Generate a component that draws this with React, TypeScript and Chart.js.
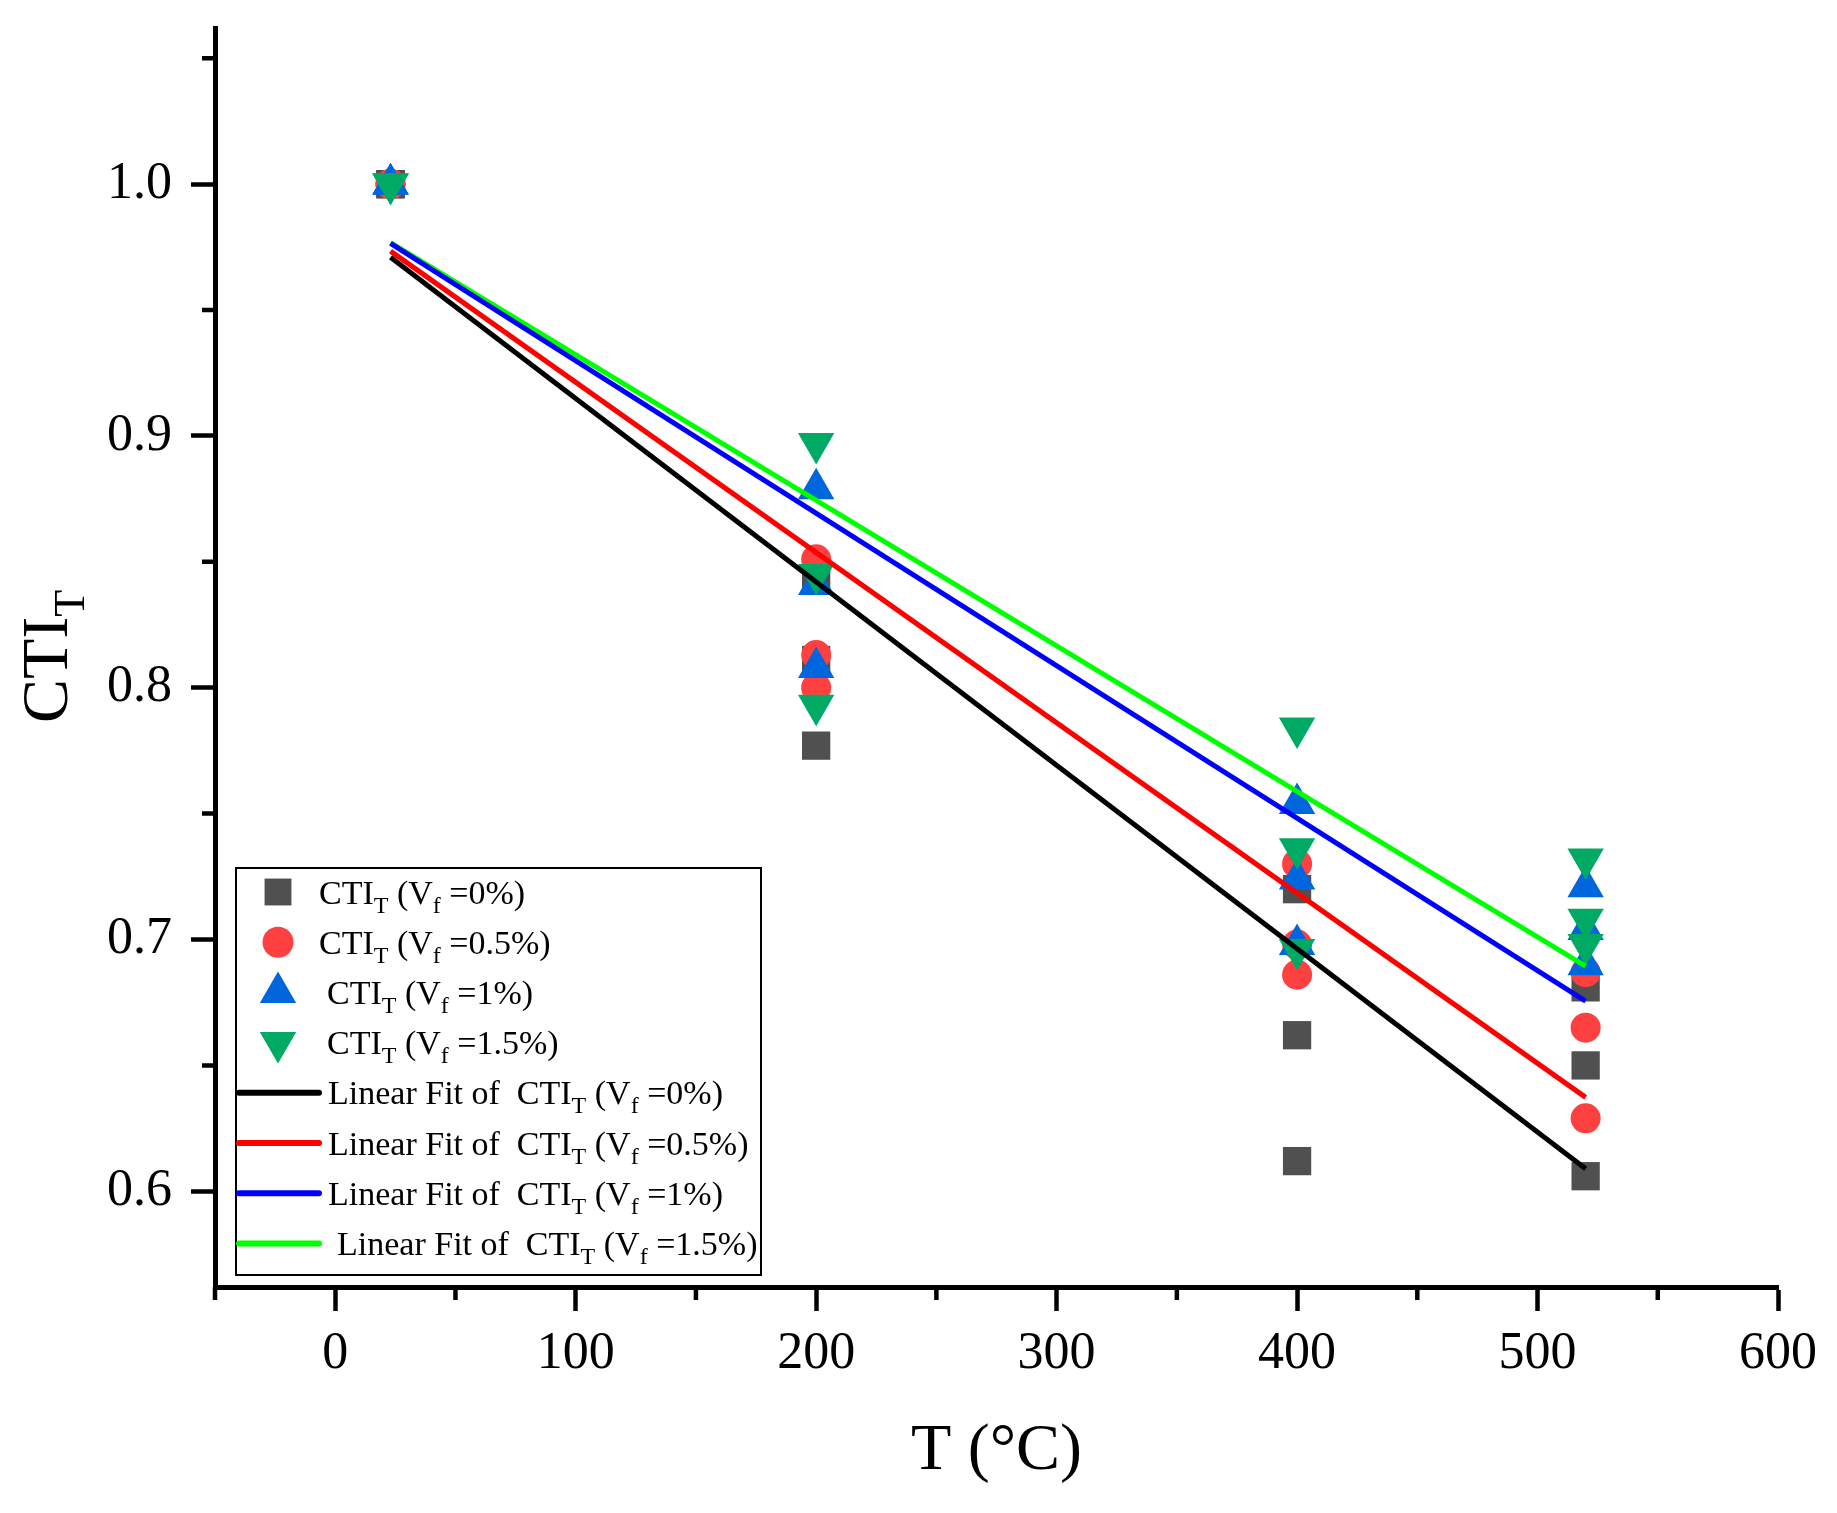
import { useEffect, useRef } from "react";
import { Chart, registerables } from "chart.js";
import { drawPoint } from "chart.js/helpers";

Chart.register(...registerables);

// measured CTI_T values, three specimens per temperature
const temps = [23, 23, 23, 200, 200, 200, 400, 400, 400, 520, 520, 520];
const cti0 = [1, 1, 1, 0.843, 0.811, 0.777, 0.72, 0.662, 0.612, 0.681, 0.65, 0.606];
const cti05 = [1, 1, 1, 0.851, 0.813, 0.8, 0.73, 0.698, 0.686, 0.687, 0.665, 0.629];
const cti1 = [1, 1, 1, 0.879, 0.841, 0.808, 0.754, 0.724, 0.698, 0.721, 0.704, 0.69];
const cti15 = [1, 1, 1, 0.897, 0.845, 0.793, 0.784, 0.736, 0.696, 0.732, 0.708, 0.698];

// linear fit end points
const fitTemps = [23, 520];
const fit0 = [0.971, 0.609];
const fit05 = [0.9734, 0.6373];
const fit1 = [0.9765, 0.6755];
const fit15 = [0.9768, 0.6894];

const fractions = ["0%", "0.5%", "1%", "1.5%"];

const xMajor = [0, 100, 200, 300, 400, 500, 600];
const xMinor = [-50, 50, 150, 250, 350, 450, 550];
const yMajor = [0.6, 0.7, 0.8, 0.9, 1.0];
const yMinor = [0.65, 0.75, 0.85, 0.95, 1.05];

const SERIF = "'Liberation Serif', 'Times New Roman', serif";
const W = 1837;
const H = 1513;

const markerColors = ["rgb(80,80,80)", "rgb(255,64,64)", "rgb(0,102,221)", "rgb(0,170,100)"];
const fitColors = ["#000000", "#ff0000", "#0000ff", "#00ff00"];

type Seg = [string, boolean];

function drawRich(ctx: CanvasRenderingContext2D, x: number, y: number, segs: Seg[], size: number, sub: number, drop: number) {
  let cx = x;
  for (const [t, isSub] of segs) {
    ctx.font = `${isSub ? sub : size}px ${SERIF}`;
    ctx.fillText(t, cx, isSub ? y + drop : y);
    cx += ctx.measureText(t).width;
  }
}

const ctiLabel = (prefix: string, frac: string): Seg[] => [
  [prefix + "CTI", false],
  ["T", true],
  [" (V", false],
  ["f", true],
  [" =" + frac + ")", false],
];

const decorPlugin = {
  id: "decor",
  afterDraw(chart: any) {
    const ctx: CanvasRenderingContext2D = chart.ctx;
    const { left, bottom } = chart.chartArea;
    const xs = chart.scales.x;
    const ys = chart.scales.y;
    ctx.save();

    // minor ticks
    ctx.strokeStyle = "#000";
    ctx.lineWidth = 4.5;
    ctx.beginPath();
    xMinor.forEach((v) => {
      const px = xs.getPixelForValue(v);
      ctx.moveTo(px, bottom);
      ctx.lineTo(px, bottom + 13);
    });
    yMinor.forEach((v) => {
      const py = ys.getPixelForValue(v);
      ctx.moveTo(left, py);
      ctx.lineTo(left - 13, py);
    });
    ctx.stroke();

    // y title
    ctx.fillStyle = "#000";
    ctx.textBaseline = "alphabetic";
    ctx.textAlign = "left";
    ctx.save();
    ctx.translate(67, 723);
    ctx.rotate(-Math.PI / 2);
    drawRich(ctx, 0, 0, [["CTI", false], ["T", true]], 66, 44, 17);
    ctx.restore();

    // legend box
    const bx = left + 21;
    const by = bottom - 419;
    const bw = 525;
    const bh = 407;
    ctx.fillStyle = "#fff";
    ctx.fillRect(bx, by, bw, bh);
    ctx.strokeStyle = "#000";
    ctx.lineWidth = 2;
    ctx.strokeRect(bx, by, bw, bh);

    const rowY = (i: number) => by + 24 + i * 50.2;
    const markerStyles = [
      { pointStyle: "rect", radius: 19, rotation: 0 },
      { pointStyle: "circle", radius: 15.5, rotation: 0 },
      { pointStyle: "triangle", radius: 21, rotation: 0 },
      { pointStyle: "triangle", radius: 21, rotation: 180 },
    ];
    const textX = [104, 104, 112, 112];
    const lineTextX = [113, 113, 113, 122];
    for (let i = 0; i < 4; i++) {
      const cy = rowY(i);
      ctx.fillStyle = markerColors[i];
      drawPoint(ctx, { ...markerStyles[i], borderWidth: 0 } as any, left + 63, cy);
      ctx.fillStyle = "#000";
      drawRich(ctx, left + textX[i], cy + 11.5, ctiLabel("", fractions[i]), 34, 24, 9);
    }
    for (let i = 0; i < 4; i++) {
      const cy = rowY(i + 4);
      ctx.strokeStyle = fitColors[i];
      ctx.lineWidth = 6;
      ctx.lineCap = "round";
      ctx.beginPath();
      ctx.moveTo(left + 24, cy);
      ctx.lineTo(left + 104, cy);
      ctx.stroke();
      ctx.fillStyle = "#000";
      drawRich(ctx, left + lineTextX[i], cy + 11.5, ctiLabel("Linear Fit of  ", fractions[i]), 34, 24, 9);
    }
    ctx.restore();
  },
};

const zeroPad = (s: any) => {
  s.paddingLeft = 0;
  s.paddingRight = 0;
  s.paddingTop = 0;
  s.paddingBottom = 0;
};

export default function App() {
  const canvasRef = useRef<HTMLCanvasElement>(null);
  const chartRef = useRef<Chart | null>(null);

  useEffect(() => {
    document.body.style.margin = "0";
    if (!canvasRef.current) return;
    if (chartRef.current) chartRef.current.destroy();
    const ctx = canvasRef.current.getContext("2d");
    if (!ctx) return;

    const pts = (ys: number[]) => temps.map((t, i) => ({ x: t, y: ys[i] }));
    const fit = (ys: number[]) => fitTemps.map((t, i) => ({ x: t, y: ys[i] }));
    const scatterSets = [cti0, cti05, cti1, cti15];
    const fitSets = [fit0, fit05, fit1, fit15];
    const styles = ["rect", "circle", "triangle", "triangle"];
    const radii = [20, 15, 21, 21];

    const datasets: any[] = [];
    scatterSets.forEach((ys, i) => {
      datasets.push({
        type: "scatter",
        label: `CTI_T (Vf =${fractions[i]})`,
        data: pts(ys),
        pointStyle: styles[i],
        pointRadius: radii[i],
        pointRotation: i === 3 ? 180 : 0,
        pointBackgroundColor: markerColors[i],
        pointBorderWidth: 0,
        showLine: false,
        order: 7 - i,
      });
    });
    fitSets.forEach((ys, i) => {
      datasets.push({
        type: "line",
        label: `Linear Fit of CTI_T (Vf =${fractions[i]})`,
        data: fit(ys),
        borderColor: fitColors[i],
        borderWidth: 5,
        pointRadius: 0,
        fill: false,
        tension: 0,
        borderCapStyle: "butt",
        order: i,
      });
    });

    chartRef.current = new Chart(ctx, {
      type: "scatter",
      data: { datasets },
      options: {
        animation: false,
        responsive: true,
        maintainAspectRatio: false,
        layout: { padding: { top: 28, right: 59, left: 0, bottom: 0 } },
        plugins: { legend: { display: false }, tooltip: { enabled: false } },
        scales: {
          x: {
            type: "linear",
            min: -50,
            max: 600,
            afterBuildTicks: (s: any) => {
              s.ticks = xMajor.map((v) => ({ value: v }));
            },
            afterFit: (s: any) => {
              s.height = 226;
              zeroPad(s);
            },
            ticks: {
              autoSkip: false,
              maxRotation: 0,
              padding: 12,
              color: "#000",
              font: { family: SERIF, size: 52 },
              callback: (v: any) => String(v),
            },
            grid: {
              drawOnChartArea: false,
              drawTicks: true,
              tickLength: 24,
              tickWidth: 4.5,
              tickColor: "#000",
            },
            border: { display: true, width: 5, color: "#000" },
            title: {
              display: true,
              text: "T (°C)",
              color: "#000",
              font: { family: SERIF, size: 66 },
              padding: { top: 0, bottom: 22 },
            },
          },
          y: {
            type: "linear",
            min: 0.562,
            max: 1.062,
            afterBuildTicks: (s: any) => {
              s.ticks = yMajor.map((v) => ({ value: v }));
            },
            afterFit: (s: any) => {
              s.width = 215;
              zeroPad(s);
            },
            ticks: {
              autoSkip: false,
              padding: 19,
              color: "#000",
              font: { family: SERIF, size: 52 },
              callback: (v: any) => Number(v).toFixed(1),
            },
            grid: {
              drawOnChartArea: false,
              drawTicks: true,
              tickLength: 24,
              tickWidth: 4.5,
              tickColor: "#000",
            },
            border: { display: true, width: 5, color: "#000" },
          },
        },
      },
      plugins: [decorPlugin],
    } as any);

    return () => {
      if (chartRef.current) {
        chartRef.current.destroy();
        chartRef.current = null;
      }
    };
  }, []);

  return (
    <div style={{ width: W, height: H, position: "relative", background: "#fff" }}>
      <canvas ref={canvasRef} />
    </div>
  );
}
